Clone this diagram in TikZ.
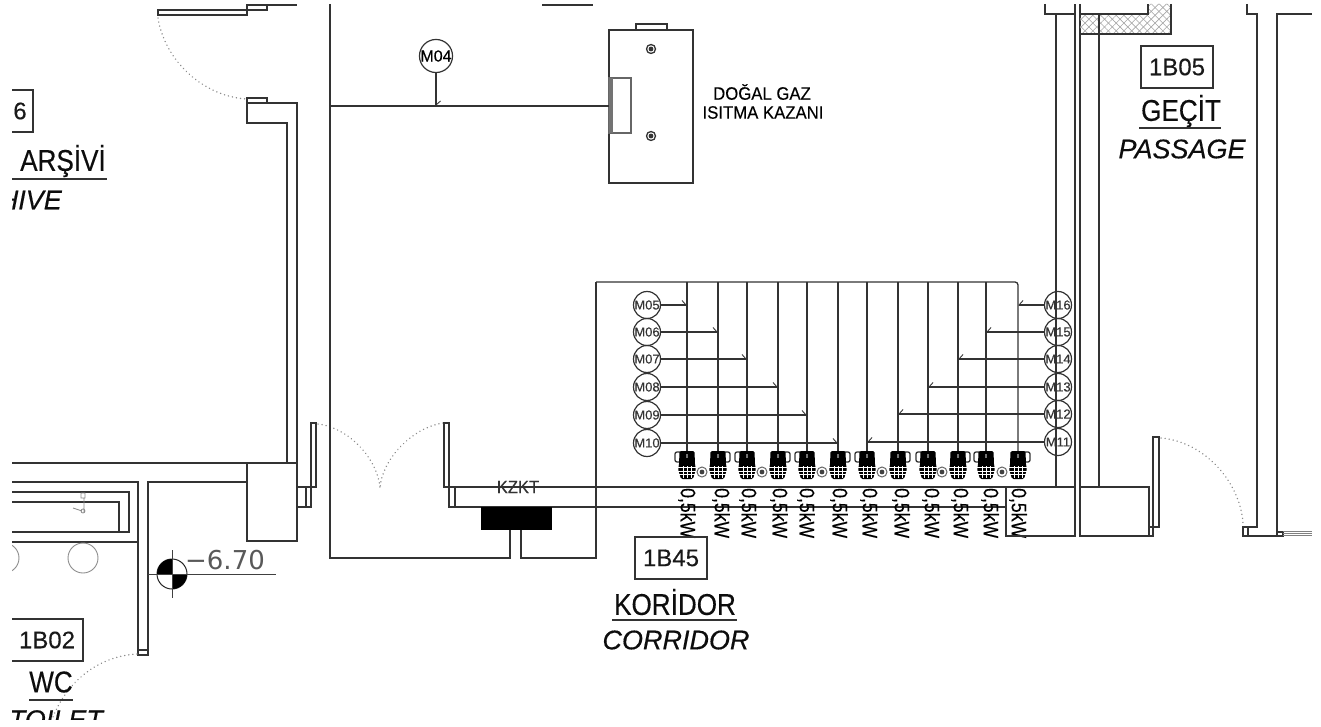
\documentclass[tikz,border=0pt]{standalone}
\usepackage{fontspec}
\setmainfont[FakeBold=.3]{Liberation Sans}
\usetikzlibrary{arrows.meta,patterns.meta}
\definecolor{ink}{gray}{0.2}
\newcommand{\fsize}[1]{\fontsize{#1}{#1}\selectfont}
\tikzset{
  wall/.style={line width=1.5pt,draw=ink},
  pipe/.style={line width=1.3pt,draw=ink},
  feed/.style={pipe,-{Straight Barb[harpoon,length=4pt,width=9pt,line width=.9pt]}},
  feedr/.style={pipe,-{Straight Barb[harpoon,swap,length=4pt,width=9pt,line width=.9pt]}},
  swing/.style={line width=1.5pt,draw=black!45,line cap=round,dash pattern=on .1pt off 4pt},
  tag/.style={circle,draw=ink,line width=1.2pt,minimum size=27pt,inner sep=0pt,font=\fsize{13},text=ink},
  roombox/.style={draw=ink,line width=1.3pt,minimum width=72pt,minimum height=42pt,inner sep=0pt,font=\fsize{24},text=black!90},
  roomname/.style={font=\fsize{30},xscale=.87,text=black!95,inner sep=0pt},
  roomen/.style={font=\fsize{27}\itshape,text=black!95,inner sep=0pt},
  load/.style={rotate=-90,anchor=west,font=\fsize{21},xscale=.84,inner sep=0pt,text=black},
  hatchline/.style={pattern={Lines[angle=45,distance=5.5pt,line width=.6pt]},pattern color=black!35},
  hatchback/.style={pattern={Lines[angle=-45,distance=5.5pt,line width=.6pt]},pattern color=black!35},
  radbody/.pic={
    \fill[black,rounded corners=1.5pt] (-7.5,0) -- (7.5,0) -- (8,14) -- (9,18) -- (6,28) -- (-6,28) -- (-9,18) -- (-8,14) -- cycle;
    \draw[white,line width=.4pt] (-9,16.5) -- (9,16.5) (-9,20) -- (9,20) (-9,23.5) -- (9,23.5) (-4,15) -- (-4,27) (0,15) -- (0,27) (4,15) -- (4,27);
    \fill[black!55] (-1,3) rectangle (1,7);
  },
  radleft/.pic={
    \draw[pipe,fill=white,rounded corners=2pt] (-12,1) rectangle (-5,11);
    \pic {radbody};
  },
  radright/.pic={
    \draw[pipe,fill=white,rounded corners=2pt] (12,1) rectangle (5,11);
    \pic {radbody};
  },
  valve/.pic={
    \draw[line width=1pt,draw=black!60] (0,0) circle (5);
    \fill[black!75] (0,0) circle (2.4);
  },
  bolt/.pic={
    \draw[line width=1.3pt,draw=ink] (0,0) circle (4.5);
    \fill[black!80] (0,0) circle (2.4);
  },
}
\begin{document}
\begin{tikzpicture}[x=1pt,y=-1pt]
  \useasboundingbox (0,0) rectangle (1321,727);
  \clip (12,4) rectangle (1312,719);

  % top left door and archive wall
  \draw[wall] (158,10) rectangle (247,15);
  \draw[wall] (247,15) -- (247,4) (247,5) -- (267,5) -- (267,10) -- (247,10) (267,5) -- (297,5);
  \draw[swing] (158,18) .. controls (165,62) and (205,97) .. (247,99);
  \draw[wall] (247,103) -- (247,98) -- (267,98) -- (267,103);
  \draw[wall] (297,463) -- (297,103) -- (247,103) -- (247,123) -- (287,123) -- (287,463);

  % left block
  \draw[wall] (12,463) -- (247,463);
  \draw[wall] (247,463) rectangle (297,541);
  \draw[wall] (12,482) -- (138,482) -- (138,655) -- (148,655) -- (148,482) -- (247,482);
  \draw[wall] (138,650) -- (148,650);
  \draw[wall] (12,492) -- (129,492) -- (129,532) -- (12,532);
  \draw[wall] (12,502) -- (119,502) -- (119,532);
  \draw[wall] (12,542) -- (138,542);
  \draw[line width=.9pt,draw=black!45] (83,558) circle (15);
  \draw[line width=.9pt,draw=black!45] (4,558) circle (15);
  \draw[line width=.8pt,draw=black!45] (81,493) rectangle (85,498) (84,498) -- (84,512) (73,508) -- (82,511) (83,511) circle (2);
  \draw[swing] (137,654) .. controls (100,656) and (65,680) .. (50,725);

  % level mark
  \node[circle,draw=black!85,line width=1pt,minimum size=30pt,inner sep=0pt] (lvl) at (172,574) {};
  \fill[black] (lvl.center) -- (157,574) arc (180:270:15) -- cycle;
  \fill[black] (lvl.center) -- (187,574) arc (0:90:15) -- cycle;
  \draw[line width=.9pt,draw=black!75] (148,574) -- (276,574);
  \draw[line width=.9pt,draw=black!75] (172,550) -- (172,598);
  \node[font=\fontspec{DejaVu Sans}\fsize{26},text=black!65,inner sep=0pt] (elev) at (225,560) {−6.70};

  % corridor doors
  \draw[wall] (297,487) -- (316,487) -- (316,423) -- (311,423) -- (311,487);
  \draw[wall] (297,507) -- (311,507) -- (311,487) (306,487) -- (306,507);
  \draw[swing] (318,424) .. controls (350,428) and (378,460) .. (380,488);
  \draw[swing] (443,423) .. controls (411,428) and (382,460) .. (380,488);
  \draw[wall] (444,423) rectangle (449,487);
  \draw[wall] (449,487) -- (1075,487);
  \draw[wall] (449,487) -- (449,507) -- (1006,507) (455,487) -- (455,507);

  % collector with its return
  \draw[wall] (330,4) -- (330,558) -- (510,558) -- (510,530);
  \draw[wall] (521,530) -- (521,558) -- (596,558) -- (596,282);
  \node[fill=black,minimum width=71pt,minimum height=23pt,inner sep=0pt] (collector) at (516.5,518.5) {};
  \node[font=\fsize{18},xscale=.92,text=ink,inner sep=0pt] (kzkt) at (518,487) {KZKT};

  % boiler
  \draw[wall] (609,30) rectangle (693,183);
  \draw[wall] (636,30) -- (636,24) -- (667,24) -- (667,30);
  \draw[line width=1.1pt,draw=black!60] (609,78) rectangle (631,133);
  \fill[black!55] (609,78) rectangle (613,133);
  \pic at (651,49) {bolt};
  \pic at (651,136) {bolt};
  \node[font=\fsize{18},xscale=.93,text=black,inner sep=0pt] (boiler1) at (762,92) {DOĞAL GAZ};
  \node[font=\fsize{18},xscale=.93,text=black,inner sep=0pt] (boiler2) at (763,112.5) {ISITMA KAZANI};
  \coordinate (gas) at (330,106);
  \coordinate (boil) at (609,106);
  \draw[pipe] (gas) -- (boil);
  \node[tag,minimum size=32pt,font=\fsize{16},text=black] (M04) at (436,56) {M04};
  \draw[feed] (M04) -- (M04 |- gas);
  \draw[wall] (542,5) -- (593,5);

  % heater pipes
  \coordinate (main) at (596,282);
  \coordinate (r1) at (687,451);
  \coordinate (r2) at (718,451);
  \coordinate (r3) at (747,451);
  \coordinate (r4) at (778,451);
  \coordinate (r5) at (807,451);
  \coordinate (r6) at (838,451);
  \coordinate (r7) at (867,451);
  \coordinate (r8) at (898,451);
  \coordinate (r9) at (928,451);
  \coordinate (r10) at (958,451);
  \coordinate (r11) at (986,451);
  \coordinate (r12) at (1018,451);
  \draw[pipe,rounded corners=3pt] (main) -- (main -| r12) -- (r12);
  \draw[pipe] (main -| r1) -- (r1);
  \draw[pipe] (main -| r2) -- (r2);
  \draw[pipe] (main -| r3) -- (r3);
  \draw[pipe] (main -| r4) -- (r4);
  \draw[pipe] (main -| r5) -- (r5);
  \draw[pipe] (main -| r6) -- (r6);
  \draw[pipe] (main -| r7) -- (r7);
  \draw[pipe] (main -| r8) -- (r8);
  \draw[pipe] (main -| r9) -- (r9);
  \draw[pipe] (main -| r10) -- (r10);
  \draw[pipe] (main -| r11) -- (r11);

  % thermostats
  \node[tag] (M05) at (647,305) {M05};
  \node[tag] (M06) at (647,332) {M06};
  \node[tag] (M07) at (647,359) {M07};
  \node[tag] (M08) at (647,387) {M08};
  \node[tag] (M09) at (647,415) {M09};
  \node[tag] (M10) at (647,443) {M10};
  \node[tag] (M16) at (1058,305) {M16};
  \node[tag] (M15) at (1058,332) {M15};
  \node[tag] (M14) at (1058,359) {M14};
  \node[tag] (M13) at (1058,387) {M13};
  \node[tag] (M12) at (1058,414) {M12};
  \node[tag] (M11) at (1058,442) {M11};
  \draw[feed] (M05) -- (M05 -| r1);
  \draw[feed] (M06) -- (M06 -| r2);
  \draw[feed] (M07) -- (M07 -| r3);
  \draw[feed] (M08) -- (M08 -| r4);
  \draw[feed] (M09) -- (M09 -| r5);
  \draw[feed] (M10) -- (M10 -| r6);
  \draw[feedr] (M16) -- (M16 -| r12);
  \draw[feedr] (M15) -- (M15 -| r11);
  \draw[feedr] (M14) -- (M14 -| r10);
  \draw[feedr] (M13) -- (M13 -| r9);
  \draw[feedr] (M12) -- (M12 -| r8);
  \draw[feedr] (M11) -- (M11 -| r7);

  % heaters
  \pic at (r1) {radleft};
  \pic at (r2) {radright};
  \pic at (r3) {radleft};
  \pic at (r4) {radright};
  \pic at (r5) {radleft};
  \pic at (r6) {radright};
  \pic at (r7) {radleft};
  \pic at (r8) {radright};
  \pic at (r9) {radleft};
  \pic at (r10) {radright};
  \pic at (r11) {radleft};
  \pic at (r12) {radright};
  \pic at (702,472) {valve};
  \pic at (762,472) {valve};
  \pic at (822,472) {valve};
  \pic at (882,472) {valve};
  \pic at (942,472) {valve};
  \pic at (1002,472) {valve};
  \node[load] (kw1) at (687,488) {0,5kW};
  \node[load] (kw2) at (721,488) {0,5kW};
  \node[load] (kw3) at (748,488) {0,5kW};
  \node[load] (kw4) at (779,488) {0,5kW};
  \node[load] (kw5) at (806,488) {0,5kW};
  \node[load] (kw6) at (839,488) {0,5kW};
  \node[load] (kw7) at (869,488) {0,5kW};
  \node[load] (kw8) at (901,488) {0,5kW};
  \node[load] (kw9) at (931,488) {0,5kW};
  \node[load] (kw10) at (960,488) {0,5kW};
  \node[load] (kw11) at (990,488) {0,5kW};
  \node[load] (kw12) at (1018,488) {0,5kW};

  % right walls
  \draw[wall] (1045,4) -- (1045,14) -- (1075,14);
  \draw[wall] (1056,14) -- (1056,487);
  \draw[wall] (1006,487) -- (1006,536) -- (1075,536) -- (1075,4);
  \draw[wall] (1080,4) -- (1080,536) -- (1149,536) -- (1149,487) -- (1080,487);
  \fill[hatchline] (1080,14) -- (1148,14) -- (1148,4) -- (1171,4) -- (1171,34) -- (1080,34) -- cycle;
  \fill[hatchback] (1080,14) -- (1148,14) -- (1148,4) -- (1171,4) -- (1171,34) -- (1080,34) -- cycle;
  \draw[wall] (1080,14) -- (1148,14) -- (1148,4) (1171,4) -- (1171,34) -- (1080,34);
  \draw[wall] (1099,14) -- (1099,487);
  \draw[wall] (1153,437) rectangle (1159,527);
  \draw[wall] (1149,527) -- (1153,527) (1153,527) -- (1153,536) -- (1149,536);
  \draw[swing] (1161,438) .. controls (1205,442) and (1240,482) .. (1243,523);
  \draw[wall] (1247,4) -- (1247,14) -- (1257,14) -- (1257,527) -- (1243,527) -- (1243,536) -- (1277,536) -- (1277,14) -- (1312,14);
  \draw[wall] (1248,527) -- (1248,536);
  \draw[wall] (1277,532) -- (1283,532) -- (1283,536) -- (1277,536);
  \draw[line width=1.2pt,draw=black!50] (1283,531.5) -- (1312,531.5) (1283,533.5) -- (1312,533.5) (1283,535.5) -- (1312,535.5);

  % room labels
  \node[roombox] (room05) at (1177,67) {1B05};
  \node[roomname] (name05) at (1181,111) {GEÇİT};
  \draw[line width=1.2pt,draw=ink] (1139,128) -- (1221,128);
  \node[roomen] (en05) at (1182,149) {PASSAGE};
  \node[roombox] (room45) at (671,558) {1B45};
  \node[roomname] (name45) at (675,602) {KORİDOR};
  \draw[line width=1.2pt,draw=ink] (612,620) -- (737,620);
  \node[roomen] (en45) at (676,640) {CORRIDOR};
  \node[roombox] (room02) at (47,640) {1B02};
  \node[roomname] (name02) at (51,682) {WC};
  \draw[line width=1.2pt,draw=ink] (29,700) -- (73,700);
  \node[roomen,anchor=north east] (en02) at (103,710) {TOILET};
  \node[roombox,minimum width=50pt] (room46) at (8,111) {};
  \node[font=\fsize{24},text=black!90,inner sep=0pt] (room46t) at (20,111) {6};
  \node[roomname] (name46) at (63,161) {ARŞİVİ};
  \draw[line width=1.2pt,draw=ink] (12,179) -- (107,179);
  \node[roomen,anchor=east] (en46) at (62,200) {HIVE};
\end{tikzpicture}
\end{document}
